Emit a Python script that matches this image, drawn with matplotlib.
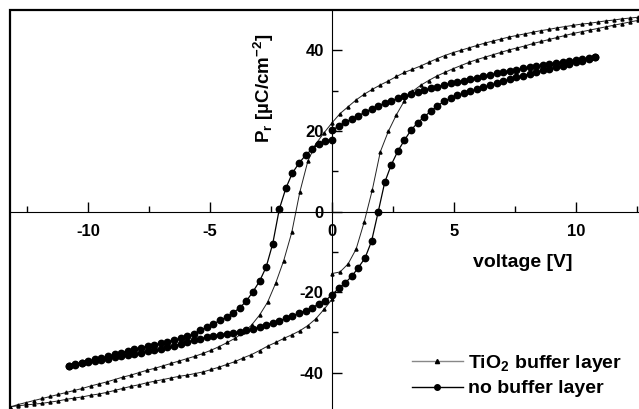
import matplotlib
matplotlib.use('Agg')
import matplotlib.pyplot as plt
from matplotlib.lines import Line2D
from matplotlib.patches import Rectangle
import numpy as np

plt.rcParams['font.family'] = 'Liberation Sans'
plt.rcParams['font.weight'] = 'bold'
plt.rcParams['axes.unicode_minus'] = False
plt.rcParams['mathtext.default'] = 'regular'

# sweep end voltages [V]
nb_vmax = 10.8
tio2_vmax = 13.2

# P_r [uC/cm^2], no buffer layer: 0 -> -Vmax, -Vmax -> +Vmax, +Vmax -> 0
nb_up_neg = [17.8, 17.6, 16.8, 15.5, 14.0, 12.0, 9.6, 5.8, 0.6, -8.0,
             -13.8, -17.3, -19.9, -22.2, -23.9, -25.1, -26.2, -27.0, -27.9, -28.7,
             -29.5, -30.4, -31.0, -31.5, -31.9, -32.3, -32.7, -33.1, -33.4, -33.8,
             -34.2, -34.6, -35.0, -35.4, -35.9, -36.3, -36.7, -37.1, -37.5, -37.9,
             -38.3]
nb_low = [-38.3, -38.0, -37.7, -37.4, -37.1, -36.8, -36.5, -36.2, -35.9, -35.6,
          -35.3, -35.0, -34.7, -34.4, -34.1, -33.7, -33.3, -32.8, -32.4, -32.0,
          -31.6, -31.2, -30.8, -30.6, -30.3, -30.1, -29.9, -29.5, -29.1, -28.7,
          -28.1, -27.6, -27.1, -26.5, -25.9, -25.2, -24.6, -23.9, -22.9, -22.1,
          -20.7, -19.1, -17.7, -16.1, -13.9, -11.6, -7.4, -0.2, 7.2, 11.6,
          15.0, 17.7, 20.2, 22.0, 23.5, 24.9, 26.2, 27.3, 28.1, 28.8,
          29.3, 29.8, 30.3, 30.8, 31.3, 31.8, 32.3, 32.8, 33.3, 33.7,
          34.2, 34.6, 35.0, 35.4, 35.8, 36.2, 36.6, 37.0, 37.4, 37.8,
          38.3]
nb_up_pos = [38.3, 38.1, 37.8, 37.6, 37.4, 37.1, 36.9, 36.6, 36.3, 36.1,
             35.8, 35.5, 35.2, 34.9, 34.6, 34.3, 33.9, 33.6, 33.2, 32.9,
             32.5, 32.2, 31.8, 31.4, 31.0, 30.6, 30.1, 29.6, 29.1, 28.6,
             28.1, 27.5, 26.9, 26.2, 25.5, 24.6, 23.8, 23.0, 22.1, 21.2,
             20.1]

# P_r [uC/cm^2], TiO2 buffer layer: 0 -> +Vmax, +Vmax -> -Vmax, -Vmax -> 0
t_low_pos = [-15.4, -15.0, -13.0, -9.3, -2.6, 5.3, 14.8, 19.9, 24.0, 27.5,
             29.8, 31.3, 32.5, 33.6, 34.5, 35.4, 36.2, 37.0, 37.7, 38.3,
             38.9, 39.5, 40.1, 40.6, 41.1, 41.7, 42.2, 42.7, 43.2, 43.7,
             44.2, 44.6, 45.0, 45.4, 45.8, 46.2, 46.6, 47.0, 47.4, 47.9,
             48.5]
t_up = [48.5, 48.4, 48.2, 48.0, 47.8, 47.5, 47.3, 47.0, 46.7, 46.5,
        46.2, 45.9, 45.6, 45.2, 44.9, 44.5, 44.1, 43.7, 43.3, 42.8,
        42.3, 41.8, 41.2, 40.6, 40.0, 39.4, 38.7, 37.9, 37.0, 36.1,
        35.3, 34.5, 33.5, 32.4, 31.4, 30.3, 29.1, 27.7, 26.0, 24.3,
        22.0, 19.5, 16.8, 12.5, 4.8, -5.2, -12.2, -17.8, -22.5, -25.7,
        -28.2, -30.0, -31.4, -32.5, -33.5, -34.4, -35.2, -35.9, -36.5, -37.1,
        -37.7, -38.3, -38.9, -39.4, -40.0, -40.6, -41.1, -41.7, -42.3, -42.8,
        -43.3, -43.9, -44.4, -44.9, -45.4, -45.9, -46.4, -46.9, -47.4, -47.9,
        -48.5]
t_low_neg = [-48.5, -48.2, -48.0, -47.8, -47.6, -47.3, -47.0, -46.6, -46.3, -46.0,
             -45.6, -45.3, -44.9, -44.4, -43.9, -43.4, -43.0, -42.5, -42.1, -41.7,
             -41.3, -40.9, -40.6, -40.2, -39.8, -39.2, -38.6, -37.9, -37.2, -36.3,
             -35.5, -34.5, -33.4, -32.5, -31.5, -30.6, -29.6, -28.3, -26.6, -24.3,
             -21.8]

x_ticks = [-10, -5, 0, 5, 10]
y_ticks = [-40, -20, 0, 20, 40]


def sweep(a, b, vals):
    return np.linspace(a, b, len(vals))


nb_v = np.concatenate([sweep(0, -nb_vmax, nb_up_neg),
                       sweep(-nb_vmax, nb_vmax, nb_low),
                       sweep(nb_vmax, 0, nb_up_pos)])
nb_p = np.concatenate([nb_up_neg, nb_low, nb_up_pos])
t_v = np.concatenate([sweep(0, tio2_vmax, t_low_pos),
                      sweep(tio2_vmax, -tio2_vmax, t_up),
                      sweep(-tio2_vmax, 0, t_low_neg)])
t_p = np.concatenate([t_low_pos, t_up, t_low_neg])

fig = plt.figure(figsize=(6.39, 4.09), dpi=100)
ax = fig.add_axes([10 / 639, -4 / 409, 644 / 639, 403 / 409])

ax.plot(t_v, t_p, color='#222222', lw=0.7, marker='^', ms=2.2,
        mfc='black', mec='black')
ax.plot(nb_v, nb_p, color='black', lw=0.9, marker='o', ms=4.6)

ax.set_xlim(-13.2, 13.2)
ax.set_ylim(-50, 50)

ax.spines['left'].set_position('zero')
ax.spines['bottom'].set_position('zero')
ax.spines['top'].set_visible(False)
ax.spines['right'].set_visible(False)
ax.add_patch(Rectangle((0, 0), 1, 1, transform=ax.transAxes, fill=False,
                       lw=1.6, color='black', clip_on=False))

ax.set_xticks(x_ticks)
ax.set_xticklabels([str(t) for t in x_ticks])
ax.set_xticks([-12.5, -7.5, -2.5, 2.5, 7.5, 12.5], minor=True)
ax.set_yticks(y_ticks)
ax.set_yticklabels([str(t) for t in y_ticks])
ax.set_yticks([-30, -10, 10, 30], minor=True)
ax.tick_params(which='both', direction='in', labelsize=12)
ax.tick_params(which='major', length=7, width=1)
ax.tick_params(which='minor', length=4, width=1)
ax.tick_params(axis='x', pad=9)
ax.tick_params(axis='y', pad=6)

ax.text(-2.8, 30.5, 'P$_\\mathregular{r}$ [µC/cm$^\\mathregular{-2}$]', rotation=90,
        ha='center', va='center', fontsize=13.5)
ax.text(7.8, -12.7, 'voltage [V]', ha='center', va='center', fontsize=14)

h1 = Line2D([], [], color='#888888', lw=1, marker='^', ms=3, mfc='black', mec='black')
h2 = Line2D([], [], color='black', lw=1, marker='o', ms=4)
ax.legend([h1, h2], ['TiO$_\\mathregular{2}$ buffer layer', 'no buffer layer'],
          loc='upper left', bbox_to_anchor=(412 / 639, 1 - 353 / 409),
          bbox_transform=fig.transFigure, frameon=False, fontsize=14,
          handlelength=2.6, handletextpad=0.3, labelspacing=0.3,
          borderpad=0, borderaxespad=0)

fig.savefig('out.png', dpi=100)
